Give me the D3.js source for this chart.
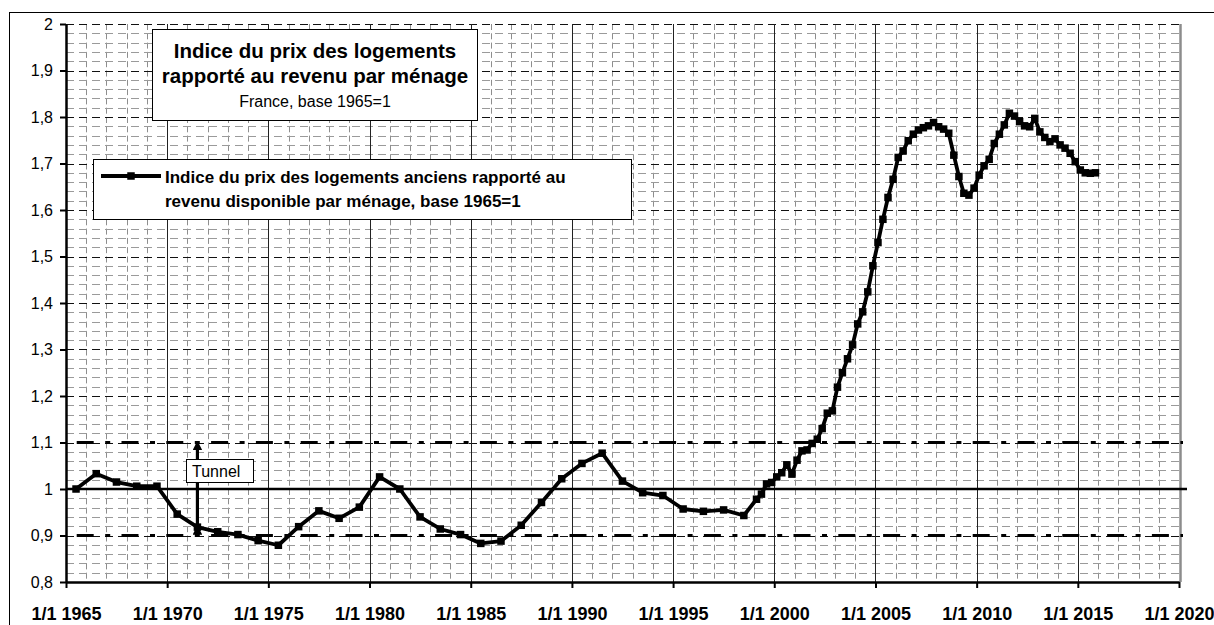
<!DOCTYPE html>
<html>
<head>
<meta charset="utf-8">
<script src="https://cdn.jsdelivr.net/npm/d3@7"></script>
<style>
body { margin: 0; background: #fff; }
svg { display: block; font-family: "Liberation Sans", Arial, sans-serif; }
</style>
</head>
<body>
<script>
//wrap everything in a self-executing function
(function(){

//annual values, plotted mid-year
var annualYears = [1965, 1966, 1967, 1968, 1969, 1970, 1971, 1972, 1973, 1974,
	1975, 1976, 1977, 1978, 1979, 1980, 1981, 1982, 1983, 1984,
	1985, 1986, 1987, 1988, 1989, 1990, 1991, 1992, 1993, 1994,
	1995, 1996, 1997, 1998];
var annualValues = [1.000, 1.033, 1.015, 1.006, 1.006, 0.946, 0.918, 0.908, 0.902, 0.889,
	0.879, 0.919, 0.953, 0.937, 0.961, 1.026, 1.000, 0.940, 0.914, 0.902,
	0.883, 0.888, 0.922, 0.971, 1.022, 1.055, 1.077, 1.017, 0.992, 0.986,
	0.957, 0.952, 0.955, 0.943];

//quarterly values (T1..T4), plotted mid-quarter
var quarterYears = [1999, 2000, 2001, 2002, 2003, 2004, 2005, 2006, 2007,
	2008, 2009, 2010, 2011, 2012, 2013, 2014, 2015];
var quarterValues = [
	[0.978, 0.989, 1.011, 1.014],
	[1.026, 1.035, 1.052, 1.032],
	[1.062, 1.082, 1.084, 1.098],
	[1.107, 1.130, 1.163, 1.168],
	[1.219, 1.250, 1.280, 1.310],
	[1.355, 1.381, 1.424, 1.480],
	[1.530, 1.580, 1.627, 1.666],
	[1.713, 1.727, 1.749, 1.763],
	[1.772, 1.777, 1.781, 1.788],
	[1.779, 1.774, 1.765, 1.718],
	[1.672, 1.636, 1.632, 1.647],
	[1.675, 1.695, 1.709, 1.743],
	[1.763, 1.783, 1.808, 1.802],
	[1.790, 1.781, 1.779, 1.797],
	[1.768, 1.756, 1.747, 1.753],
	[1.740, 1.733, 1.722, 1.704],
	[1.686, 1.680, 1.679, 1.680]
];

//ticks and reference levels
var xTickYears = [1965, 1970, 1975, 1980, 1985, 1990, 1995, 2000, 2005, 2010, 2015, 2020];
var yTickValues = [0.8, 0.9, 1, 1.1, 1.2, 1.3, 1.4, 1.5, 1.6, 1.7, 1.8, 1.9, 2];
var tunnelLevels = [0.9, 1.1];
var baseLevel = 1;

//texts
var titleLines = ["Indice du prix des logements", "rapporté au revenu par ménage"];
var subTitle = "France, base 1965=1";
var legendLines = ["Indice du prix des logements anciens rapporté au",
	"revenu disponible par ménage, base 1965=1"];
var tunnelLabel = "Tunnel";
var tunnelYear = 1971;

var width = 1214,
	height = 625;

//scales
var x = d3.scaleTime()
	.domain([new Date(1965, 0, 1), new Date(2020, 0, 1)])
	.range([66, 1179]);
var y = d3.scaleLinear()
	.domain([0.8, 2])
	.range([582, 24]);

//build the point list
var points = [];
annualYears.forEach(function(yr, i){
	points.push({date: new Date(yr, 6, 1), value: annualValues[i]});
});
quarterYears.forEach(function(yr, i){
	quarterValues[i].forEach(function(v, q){
		points.push({date: new Date(yr, q * 3 + 1, 15), value: v});
	});
});

var svg = d3.select("body")
	.append("svg")
	.attr("width", width)
	.attr("height", height);

//chart area border (runs off the picture right and bottom)
svg.append("rect")
	.attr("x", 9.5)
	.attr("y", 12.5)
	.attr("width", 1220)
	.attr("height", 630)
	.attr("fill", "#fff")
	.attr("stroke", "#000")
	.attr("stroke-width", 1);

var x0 = x.range()[0], x1 = x.range()[1],
	y0 = y.range()[1], y1 = y.range()[0];

//minor vertical gridlines, every year
var minorYears = d3.timeYear.range(new Date(1966, 0, 1), new Date(2020, 0, 1))
	.filter(function(d){ return d.getFullYear() % 5 != 0; });
svg.append("g")
	.selectAll("line")
	.data(minorYears)
	.enter()
	.append("line")
	.attr("x1", function(d){ return Math.round(x(d)) + 0.5; })
	.attr("x2", function(d){ return Math.round(x(d)) + 0.5; })
	.attr("y1", y0)
	.attr("y2", y1)
	.attr("stroke", "#8e8e8e")
	.attr("stroke-width", 1)
	.attr("stroke-dasharray", "6,3.3");

//minor horizontal gridlines, every 0.02
var minorLevels = d3.range(41, 100, 1).map(function(k){ return k / 50; })
	.filter(function(v){ return Math.round(v * 50) % 5 != 0; });
svg.append("g")
	.selectAll("line")
	.data(minorLevels)
	.enter()
	.append("line")
	.attr("x1", x0)
	.attr("x2", x1)
	.attr("y1", function(d){ return Math.round(y(d)) + 0.5; })
	.attr("y2", function(d){ return Math.round(y(d)) + 0.5; })
	.attr("stroke", "#9a9a9a")
	.attr("stroke-width", 1)
	.attr("stroke-dasharray", "8,5");

//major horizontal gridlines, every 0.1
svg.append("g")
	.selectAll("line")
	.data(yTickValues.slice(1))
	.enter()
	.append("line")
	.attr("x1", x0)
	.attr("x2", x1)
	.attr("y1", function(d){ return Math.round(y(d)) + 0.5; })
	.attr("y2", function(d){ return Math.round(y(d)) + 0.5; })
	.attr("stroke", "#111")
	.attr("stroke-width", 1)
	.attr("stroke-dasharray", "8,5");

//major vertical gridlines, every 5 years
svg.append("g")
	.selectAll("line")
	.data(xTickYears.slice(1, -1))
	.enter()
	.append("line")
	.attr("x1", function(d){ return Math.round(x(new Date(d, 0, 1))) + 0.5; })
	.attr("x2", function(d){ return Math.round(x(new Date(d, 0, 1))) + 0.5; })
	.attr("y1", y0)
	.attr("y2", y1)
	.attr("stroke", "#222")
	.attr("stroke-width", 1);

//plot area right edge
svg.append("line")
	.attr("x1", x1 + 1.5)
	.attr("x2", x1 + 1.5)
	.attr("y1", y0)
	.attr("y2", y1)
	.attr("stroke", "#8c8c8c")
	.attr("stroke-width", 2.5);

//tunnel lines (dash-dot) and base line
svg.append("g")
	.selectAll("line")
	.data(tunnelLevels)
	.enter()
	.append("line")
	.attr("x1", x0)
	.attr("x2", x1 + 4)
	.attr("y1", function(d){ return y(d); })
	.attr("y2", function(d){ return y(d); })
	.attr("stroke", "#000")
	.attr("stroke-width", 3)
	.attr("stroke-dasharray", "17,11.5,5,11.3")
	.attr("stroke-dashoffset", -10.7);

svg.append("line")
	.attr("x1", x0)
	.attr("x2", x1 + 8)
	.attr("y1", y(baseLevel))
	.attr("y2", y(baseLevel))
	.attr("stroke", "#000")
	.attr("stroke-width", 2.5);

//axes
function fmtY(v){
	return Math.abs(v - Math.round(v)) < 1e-9 ? String(Math.round(v)) : v.toFixed(1).replace(".", ",");
}

var yAxis = svg.append("g")
	.attr("transform", "translate(" + x0 + ",0)")
	.call(d3.axisLeft(y)
		.tickValues(yTickValues)
		.tickFormat(fmtY)
		.tickSize(6)
		.tickSizeOuter(0)
		.tickPadding(7));
yAxis.select(".domain").attr("stroke-width", 2.5);
yAxis.selectAll(".tick line").attr("stroke-width", 2);
yAxis.selectAll("text")
	.attr("font-size", 16)
	.attr("font-family", "Liberation Sans, Arial, sans-serif")
	.attr("fill", "#000");

var xAxis = svg.append("g")
	.attr("transform", "translate(0," + y1 + ")")
	.call(d3.axisBottom(x)
		.tickValues(xTickYears.map(function(yr){ return new Date(yr, 0, 1); }))
		.tickFormat(function(d){ return "1/1 " + d.getFullYear(); })
		.tickSize(6)
		.tickSizeOuter(0)
		.tickPadding(19));
xAxis.select(".domain").attr("stroke-width", 2.5);
xAxis.selectAll(".tick line").attr("stroke-width", 2);
xAxis.selectAll("text")
	.attr("font-size", 18)
	.attr("font-weight", "bold")
	.attr("font-family", "Liberation Sans, Arial, sans-serif")
	.attr("fill", "#000");

//tunnel arrow, from the 1971 point up to the upper tunnel line
var tunnelPoint = points.filter(function(p){ return p.date.getFullYear() == tunnelYear; })[0];
var defs = svg.append("defs");
defs.append("marker")
	.attr("id", "arrowhead")
	.attr("viewBox", "0 0 10 10")
	.attr("refX", 8)
	.attr("refY", 5)
	.attr("markerWidth", 3)
	.attr("markerHeight", 3)
	.attr("orient", "auto")
	.append("path")
	.attr("d", "M0,0 L10,5 L0,10 z")
	.attr("fill", "#000");

svg.append("line")
	.attr("x1", x(tunnelPoint.date))
	.attr("x2", x(tunnelPoint.date))
	.attr("y1", y(tunnelPoint.value))
	.attr("y2", y(tunnelLevels[1]))
	.attr("stroke", "#000")
	.attr("stroke-width", 3.2)
	.attr("marker-end", "url(#arrowhead)")
	.attr("marker-start", "url(#arrowhead)");

//data line
var line = d3.line()
	.x(function(d){ return x(d.date); })
	.y(function(d){ return y(d.value); });

svg.append("path")
	.datum(points)
	.attr("d", line)
	.attr("fill", "none")
	.attr("stroke", "#000")
	.attr("stroke-width", 3.8)
	.attr("stroke-linejoin", "round");

var ms = 7.5;
svg.append("g")
	.selectAll("rect")
	.data(points)
	.enter()
	.append("rect")
	.attr("x", function(d){ return x(d.date) - ms / 2; })
	.attr("y", function(d){ return y(d.value) - ms / 2; })
	.attr("width", ms)
	.attr("height", ms)
	.attr("fill", "#000");

//tunnel label box
svg.append("rect")
	.attr("x", 186.5)
	.attr("y", 459.5)
	.attr("width", 67)
	.attr("height", 23)
	.attr("fill", "#fff")
	.attr("stroke", "#000")
	.attr("stroke-width", 1);
svg.append("text")
	.attr("x", 192)
	.attr("y", 477)
	.attr("font-size", 16)
	.text(tunnelLabel);

//title box
svg.append("rect")
	.attr("x", 152.5)
	.attr("y", 29.5)
	.attr("width", 325)
	.attr("height", 91)
	.attr("fill", "#fff")
	.attr("stroke", "#000")
	.attr("stroke-width", 1);
svg.append("g")
	.selectAll("text")
	.data(titleLines)
	.enter()
	.append("text")
	.attr("x", 315)
	.attr("y", function(d, i){ return 58 + i * 25; })
	.attr("text-anchor", "middle")
	.attr("font-size", 20.5)
	.attr("font-weight", "bold")
	.text(function(d){ return d; });
svg.append("text")
	.attr("x", 315)
	.attr("y", 107)
	.attr("text-anchor", "middle")
	.attr("font-size", 16)
	.text(subTitle);

//legend box
svg.append("rect")
	.attr("x", 93.5)
	.attr("y", 159.5)
	.attr("width", 538)
	.attr("height", 60)
	.attr("fill", "#fff")
	.attr("stroke", "#000")
	.attr("stroke-width", 1);
svg.append("line")
	.attr("x1", 101)
	.attr("x2", 161)
	.attr("y1", 176)
	.attr("y2", 176)
	.attr("stroke", "#000")
	.attr("stroke-width", 3.8);
svg.append("rect")
	.attr("x", 131 - ms / 2)
	.attr("y", 176 - ms / 2)
	.attr("width", ms)
	.attr("height", ms)
	.attr("fill", "#000");
svg.append("g")
	.selectAll("text")
	.data(legendLines)
	.enter()
	.append("text")
	.attr("x", 165)
	.attr("y", function(d, i){ return 183 + i * 23.5; })
	.attr("font-size", 17)
	.attr("font-weight", "bold")
	.text(function(d){ return d; });

})();
</script>
</body>
</html>
